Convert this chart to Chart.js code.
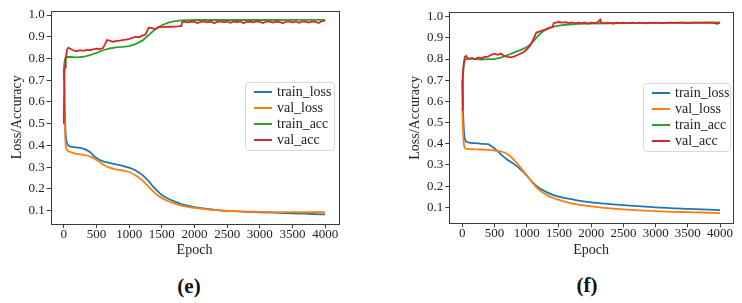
<!DOCTYPE html>
<html>
<head>
<meta charset="utf-8">
<script src="https://cdn.jsdelivr.net/npm/chart.js@4.4.1/dist/chart.umd.min.js"></script>
<style>
html,body{margin:0;padding:0;background:#fff;width:742px;height:303px;overflow:hidden;}
.wrap{position:absolute;top:0;width:371px;height:270px;}
.legend{position:absolute;border:1px solid #d9d9d9;border-radius:4px;background:rgba(255,255,255,0.85);font:14px "Liberation Serif",serif;color:#222;box-sizing:border-box;}
.legend .item{position:absolute;left:0;height:16px;line-height:16px;white-space:nowrap;}
.legend .sw{position:absolute;top:7px;left:8px;width:18px;height:2px;}
.legend .tx{position:absolute;left:31px;top:0;}
.cap{position:absolute;font:bold 21px "Liberation Serif",serif;color:#111;transform:translate(-50%,-50%);white-space:nowrap;}
</style>
</head>
<body>
<div class="wrap" style="left:0"><canvas id="cE" width="371" height="270"></canvas></div>
<div class="wrap" style="left:371px"><canvas id="cF" width="371" height="270"></canvas></div>
<div class="legend" id="legE" style="left:245px;top:82px;width:90px;height:69px"></div>
<div class="legend" id="legF" style="left:643px;top:83px;width:88px;height:69px"></div>
<div class="cap" style="left:189px;top:286px">(e)</div>
<div class="cap" style="left:587px;top:285px">(f)</div>
<script>
Chart.defaults.font.family = "'Liberation Serif', serif";

// ---------- shared ----------
const seriesNames = ["train_loss", "val_loss", "train_acc", "val_acc"];
const seriesColors = ["#1f77b4", "#ff7f0e", "#2ca02c", "#d62728"];
const xTicks = [0, 500, 1000, 1500, 2000, 2500, 3000, 3500, 4000];
const yTicks = [0.1, 0.2, 0.3, 0.4, 0.5, 0.6, 0.7, 0.8, 0.9, 1.0];
const xLabel = "Epoch";
const yLabel = "Loss/Accuracy";

// ---------- panel (e) ----------
const lossEpochsE = [0, 10, 20, 30, 50, 80, 100, 150, 200, 300, 400, 500, 600, 700, 800, 900, 1000, 1100, 1200, 1300, 1400, 1500, 1600, 1700, 1800, 1900, 2000, 2200, 2400, 2600, 2800, 3000, 3200, 3400, 3600, 3800, 3999];
const trainLossE = [0.75, 0.62, 0.52, 0.45, 0.41, 0.398, 0.395, 0.392, 0.391, 0.386, 0.37, 0.342, 0.327, 0.32, 0.313, 0.306, 0.298, 0.285, 0.265, 0.235, 0.2, 0.172, 0.155, 0.142, 0.131, 0.123, 0.117, 0.108, 0.102, 0.098, 0.095, 0.093, 0.091, 0.089, 0.087, 0.085, 0.083];
const valLossE = [0.70, 0.55, 0.45, 0.40, 0.38, 0.372, 0.37, 0.365, 0.361, 0.357, 0.35, 0.333, 0.313, 0.298, 0.29, 0.285, 0.278, 0.262, 0.24, 0.21, 0.18, 0.158, 0.144, 0.133, 0.124, 0.118, 0.113, 0.106, 0.101, 0.098, 0.096, 0.095, 0.094, 0.094, 0.093, 0.093, 0.093];
const trainAccEpochsE = [0, 10, 20, 40, 100, 200, 300, 400, 500, 600, 700, 800, 900, 1000, 1100, 1200, 1300, 1400, 1500, 1600, 1700, 1800, 1900, 2000, 2500, 3000, 3500, 3999];
const trainAccE = [0.74, 0.78, 0.80, 0.808, 0.807, 0.805, 0.808, 0.815, 0.826, 0.838, 0.846, 0.851, 0.853, 0.857, 0.866, 0.882, 0.908, 0.935, 0.953, 0.965, 0.972, 0.975, 0.976, 0.977, 0.977, 0.977, 0.978, 0.978];
const valAccEpochsE = [0, 5, 10, 20, 30, 50, 70, 100, 130, 160, 200, 250, 300, 350, 400, 450, 500, 550, 600, 630, 660, 700, 750, 800, 850, 900, 950, 1000, 1050, 1100, 1150, 1200, 1250, 1280, 1300, 1350, 1400, 1450, 1500, 1550, 1600, 1650, 1700, 1750, 1800, 1810, 1850, 1900, 1950, 2000, 2050, 2100, 2150, 2200, 2250, 2300, 2350, 2400, 2450, 2500, 2550, 2600, 2650, 2700, 2750, 2800, 2850, 2900, 2950, 3000, 3050, 3100, 3150, 3200, 3250, 3300, 3350, 3400, 3450, 3500, 3550, 3600, 3650, 3700, 3750, 3800, 3850, 3900, 3950, 3999];
const valAccE = [0.50, 0.62, 0.74, 0.76, 0.80, 0.84, 0.85, 0.845, 0.84, 0.836, 0.833, 0.838, 0.835, 0.84, 0.838, 0.842, 0.845, 0.843, 0.848, 0.865, 0.885, 0.882, 0.877, 0.88, 0.882, 0.885, 0.887, 0.89, 0.895, 0.9, 0.897, 0.905, 0.91, 0.93, 0.942, 0.94, 0.935, 0.945, 0.944, 0.945, 0.946, 0.946, 0.947, 0.948, 0.95, 0.968, 0.969, 0.966, 0.970, 0.968, 0.963, 0.969, 0.971, 0.966, 0.970, 0.962, 0.969, 0.971, 0.967, 0.970, 0.964, 0.970, 0.968, 0.971, 0.962, 0.969, 0.970, 0.966, 0.971, 0.968, 0.963, 0.970, 0.971, 0.965, 0.970, 0.968, 0.962, 0.970, 0.971, 0.966, 0.970, 0.964, 0.971, 0.969, 0.965, 0.971, 0.968, 0.963, 0.972, 0.974];

// ---------- panel (f) ----------
const lossEpochsF = [0, 10, 20, 30, 50, 80, 100, 200, 300, 400, 450, 500, 550, 600, 700, 750, 800, 900, 1000, 1100, 1200, 1300, 1400, 1500, 1600, 1800, 2000, 2200, 2500, 3000, 3500, 3999];
const trainLossF = [0.70, 0.58, 0.50, 0.45, 0.415, 0.408, 0.405, 0.403, 0.40, 0.398, 0.39, 0.378, 0.365, 0.35, 0.325, 0.315, 0.305, 0.28, 0.25, 0.215, 0.19, 0.173, 0.16, 0.15, 0.143, 0.132, 0.123, 0.117, 0.11, 0.10, 0.093, 0.087];
const valLossF = [0.57, 0.48, 0.42, 0.39, 0.378, 0.376, 0.375, 0.374, 0.373, 0.371, 0.37, 0.368, 0.366, 0.364, 0.352, 0.34, 0.325, 0.29, 0.252, 0.212, 0.18, 0.16, 0.145, 0.135, 0.126, 0.113, 0.104, 0.097, 0.09, 0.082, 0.077, 0.073];
const trainAccEpochsF = [0, 10, 20, 40, 60, 100, 200, 300, 400, 500, 600, 700, 800, 900, 1000, 1050, 1100, 1150, 1200, 1250, 1300, 1400, 1500, 1600, 1800, 2000, 2500, 3000, 3500, 3999];
const trainAccF = [0.57, 0.70, 0.76, 0.795, 0.80, 0.802, 0.80, 0.797, 0.80, 0.80, 0.807, 0.818, 0.83, 0.842, 0.856, 0.868, 0.882, 0.90, 0.917, 0.93, 0.94, 0.952, 0.958, 0.962, 0.966, 0.968, 0.97, 0.971, 0.972, 0.973];
const valAccEpochsF = [0, 5, 10, 20, 40, 60, 80, 100, 150, 200, 250, 300, 350, 400, 450, 500, 550, 600, 650, 700, 750, 800, 850, 900, 950, 1000, 1050, 1100, 1150, 1200, 1250, 1300, 1350, 1400, 1420, 1450, 1500, 1550, 1600, 1650, 1700, 1750, 1800, 1850, 1900, 1950, 2000, 2050, 2100, 2140, 2160, 2200, 2250, 2300, 2350, 2400, 2450, 2500, 2550, 2600, 2650, 2700, 2750, 2800, 2850, 2900, 2950, 3000, 3100, 3200, 3300, 3400, 3500, 3600, 3700, 3800, 3900, 3950, 3999];
const valAccF = [0.56, 0.66, 0.72, 0.77, 0.81, 0.815, 0.805, 0.80, 0.805, 0.80, 0.808, 0.803, 0.81, 0.812, 0.82, 0.825, 0.82, 0.826, 0.815, 0.81, 0.808, 0.812, 0.818, 0.825, 0.832, 0.845, 0.862, 0.89, 0.925, 0.93, 0.935, 0.94, 0.948, 0.95, 0.97, 0.972, 0.975, 0.972, 0.974, 0.970, 0.973, 0.969, 0.972, 0.970, 0.973, 0.968, 0.972, 0.970, 0.973, 0.986, 0.971, 0.969, 0.972, 0.970, 0.968, 0.972, 0.970, 0.972, 0.969, 0.971, 0.972, 0.970, 0.972, 0.971, 0.969, 0.972, 0.971, 0.972, 0.970, 0.972, 0.971, 0.972, 0.970, 0.972, 0.971, 0.972, 0.971, 0.966, 0.971];

// ---------- builders ----------
function pts(xs, ys){ return xs.map((x, i) => ({x: x, y: ys[i]})); }

function makeDatasets(groups){
  return groups.map((g, i) => ({
    label: seriesNames[i],
    data: pts(g[0], g[1]),
    borderColor: seriesColors[i],
    backgroundColor: seriesColors[i],
    borderWidth: 1.8,
    pointRadius: 0,
    fill: false,
    tension: i < 2 ? 0.4 : 0,
    cubicInterpolationMode: i < 2 ? 'monotone' : 'default',
    order: 4 - i
  }));
}

const frame = {
  id: 'frame',
  afterDraw(chart){
    const a = chart.chartArea, c = chart.ctx;
    c.save();
    c.strokeStyle = '#3a3a3a';
    c.lineWidth = 1;
    c.strokeRect(Math.round(a.left) + 0.5, Math.round(a.top) + 0.5, Math.round(a.right - a.left), Math.round(a.bottom - a.top));
    c.restore();
  }
};

function makeChart(id, datasets, cfg){
  const tickFont = {family: "'Liberation Serif', serif", size: 13, lineHeight: 1};
  const titleFont = {family: "'Liberation Serif', serif", size: 14};
  return new Chart(document.getElementById(id), {
    type: 'line',
    data: {datasets: datasets},
    options: {
      responsive: false,
      animation: false,
      events: [],
      layout: {padding: {left: 0, top: cfg.top, right: cfg.right, bottom: 0}},
      plugins: {legend: {display: false}, tooltip: {enabled: false}},
      scales: {
        x: {
          type: 'linear', min: -200, max: 4200,
          afterFit(s){ s.height = cfg.xh; },
          afterBuildTicks(s){ s.ticks = xTicks.map(v => ({value: v})); },
          grid: {display: true, drawOnChartArea: false, drawTicks: true, tickLength: 4, color: '#3a3a3a'},
          border: {display: false},
          ticks: {font: tickFont, color: '#222', padding: 0, maxRotation: 0, autoSkip: false, callback: v => String(v)},
          title: {display: true, text: xLabel, font: titleFont, color: '#222', padding: {top: 0, bottom: 11.5}}
        },
        y: {
          type: 'linear', min: cfg.ymin, max: cfg.ymax,
          afterFit(s){ s.width = cfg.yw; },
          afterBuildTicks(s){ s.ticks = yTicks.map(v => ({value: v})); },
          grid: {display: true, drawOnChartArea: false, drawTicks: true, tickLength: 4, color: '#3a3a3a'},
          border: {display: false},
          ticks: {font: tickFont, color: '#222', padding: 2, autoSkip: false, callback: v => v.toFixed(1)},
          title: {display: true, text: yLabel, font: titleFont, color: '#222', padding: {top: cfg.ytp, bottom: 0}}
        }
      }
    },
    plugins: [frame]
  });
}

function makeLegend(id){
  const el = document.getElementById(id);
  seriesNames.forEach((n, i) => {
    const it = document.createElement('div');
    it.className = 'item';
    it.style.top = (1 + i * 16) + 'px';
    const sw = document.createElement('span');
    sw.className = 'sw';
    sw.style.background = seriesColors[i];
    const tx = document.createElement('span');
    tx.className = 'tx';
    tx.textContent = n;
    it.appendChild(sw); it.appendChild(tx);
    el.appendChild(it);
  });
}

makeChart('cE', makeDatasets([[lossEpochsE, trainLossE], [lossEpochsE, valLossE], [trainAccEpochsE, trainAccE], [valAccEpochsE, valAccE]]),
  {top: 10.7, right: 32.7, xh: 46, yw: 50.7, ymin: 0.039, ymax: 1.0198, ytp: 8.6});
makeChart('cF', makeDatasets([[lossEpochsF, trainLossF], [lossEpochsF, valLossF], [trainAccEpochsF, trainAccF], [valAccEpochsF, valAccF]]),
  {top: 12.3, right: 9, xh: 46.7, yw: 78.3, ymin: 0.0245, ymax: 1.0208, ytp: 35.6});
makeLegend('legE');
makeLegend('legF');
</script>
</body>
</html>
